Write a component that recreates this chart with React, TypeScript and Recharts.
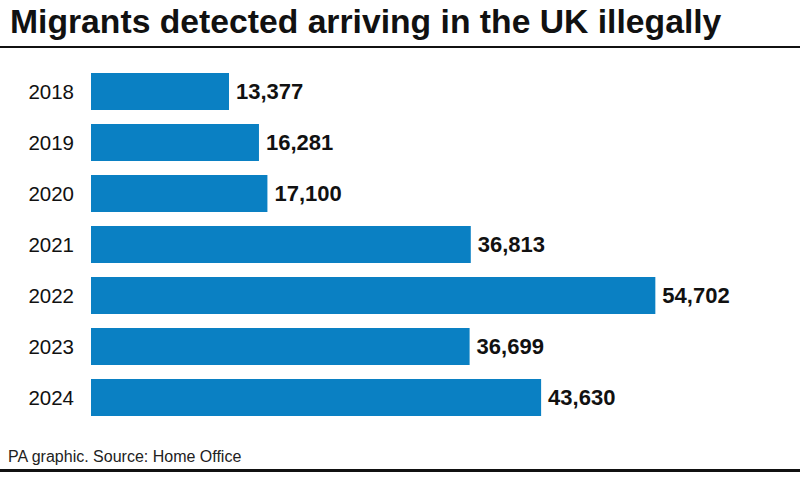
import { BarChart, Bar, XAxis, YAxis, LabelList } from "recharts";

const years = ["2018", "2019", "2020", "2021", "2022", "2023", "2024"];
const migrants = [13377, 16281, 17100, 36813, 54702, 36699, 43630];

const data = years.map((year, i) => ({ year, value: migrants[i] }));

const FONT = "'Liberation Sans', Arial, Helvetica, sans-serif";
const BLUE = "#0a80c3";

export default function App() {
  return (
    <div
      style={{
        position: "absolute",
        left: 0,
        top: 0,
        width: 800,
        height: 477,
        background: "#fff",
        fontFamily: FONT,
        overflow: "hidden",
      }}
    >
      <div
        style={{
          position: "absolute",
          left: 10,
          top: 2,
          fontSize: 33.7,
          fontWeight: 700,
          color: "#111",
          whiteSpace: "nowrap",
        }}
      >
        Migrants detected arriving in the UK illegally
      </div>
      <div style={{ position: "absolute", left: 0, top: 46, width: 800, height: 2, background: "#111" }} />

      <div style={{ position: "absolute", left: 0, top: 0 }}>
        <BarChart
          width={800}
          height={477}
          data={data}
          layout="vertical"
          margin={{ top: 66, right: 90, bottom: 54, left: 0 }}
        >
          <XAxis type="number" hide domain={[0, 60000]} />
          <YAxis
            type="category"
            dataKey="year"
            width={91}
            axisLine={false}
            tickLine={false}
            tickSize={0}
            tickMargin={17}
            tick={{ fill: "#111", fontSize: 20.5, fontFamily: FONT }}
          />
          <Bar dataKey="value" fill={BLUE} barSize={37} isAnimationActive={false}>
            <LabelList
              dataKey="value"
              position="right"
              offset={7}
              formatter={(v: number) => v.toLocaleString("en-GB")}
              style={{ fill: "#111", fontSize: 22, fontWeight: 700, fontFamily: FONT }}
            />
          </Bar>
        </BarChart>
      </div>

      <div
        style={{
          position: "absolute",
          left: 8,
          top: 448,
          fontSize: 16,
          color: "#222",
          whiteSpace: "nowrap",
        }}
      >
        PA graphic. Source: Home Office
      </div>
      <div style={{ position: "absolute", left: 0, top: 469, width: 800, height: 3, background: "#111" }} />
    </div>
  );
}
